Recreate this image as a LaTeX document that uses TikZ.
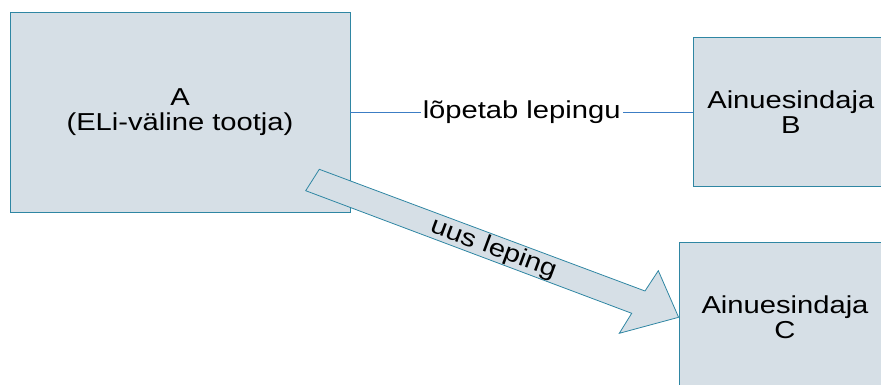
\documentclass[tikz,border=0pt]{standalone}
\usepackage{fontspec}
\setmainfont{Liberation Sans}[FakeStretch=1.19]
\definecolor{boxfill}{HTML}{D6DFE6}
\definecolor{boxline}{HTML}{2F86A3}
\definecolor{lineblue}{HTML}{3C7DC4}
\begin{document}
\begin{tikzpicture}[x=1pt,y=-1pt,
  box/.style={draw=boxline, fill=boxfill, line width=0.8pt, align=center, inner sep=0pt,
    font=\fontsize{24.5}{25.5}\selectfont},
  conn/.style={draw=lineblue, line width=0.8pt},
  lbl/.style={fill=white, inner xsep=2pt, inner ysep=1pt, font=\fontsize{24.5}{25.5}\selectfont},
  blockarrow/.style={draw=boxline, fill=boxfill, line width=0.8pt, line join=miter}]
\useasboundingbox (0,0) rectangle (881,385);
\node[box, minimum width=340pt, minimum height=200pt] (A) at (180,112) {A\\(ELi-väline tootja)};
\node[box, minimum width=195pt, minimum height=149.4pt] (B) at (790.8,112) {Ainuesindaja\\B};
\node[box, minimum width=212pt, minimum height=150pt] (C) at (785,317.3) {Ainuesindaja\\C};
\draw[conn] (A.east) -- node[lbl] {lõpetab lepingu} (B.west);
\coordinate (tip) at (C.west);
\coordinate (t1) at (319.3,169.3);
\coordinate (t2) at (305.7,190.7);
\coordinate (s1) at (645,291);
\coordinate (h1) at (658.3,270.7);
\coordinate (h2) at (619.3,333.3);
\coordinate (s2) at (631.7,313.3);
\draw[blockarrow] (t1) -- (s1) -- (h1) -- (tip) -- (h2) -- (s2) -- (t2) -- cycle;
\node[rotate=-20.4, inner sep=0pt, font=\fontsize{24.5}{25.5}\selectfont] (ul) at (494,249) {uus leping};
\end{tikzpicture}
\end{document}
